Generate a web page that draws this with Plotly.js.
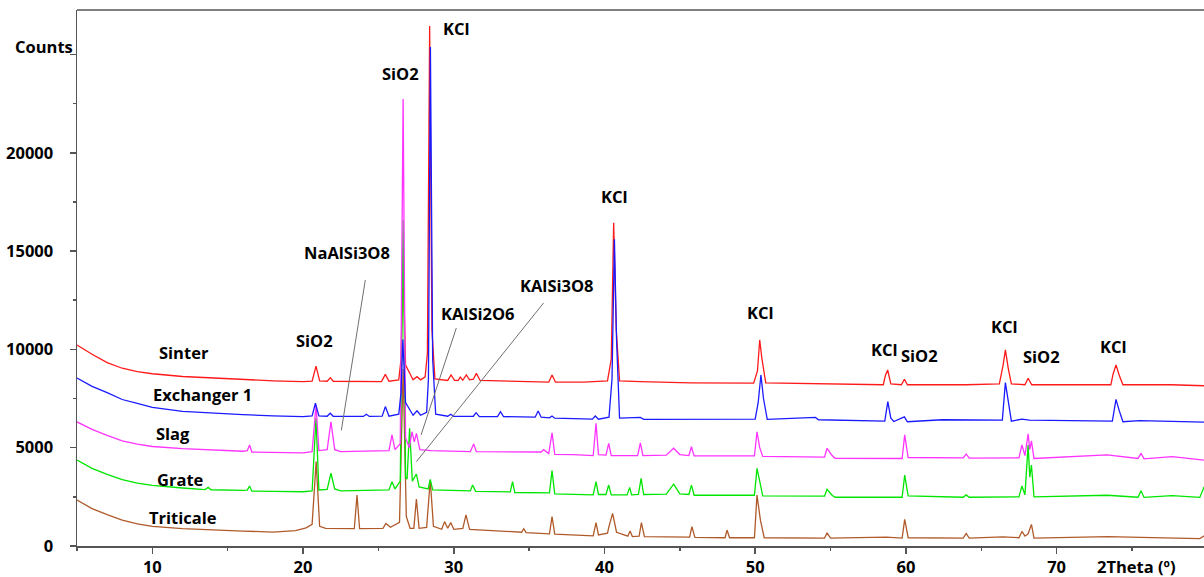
<!DOCTYPE html>
<html><head><meta charset="utf-8">
<script src="https://cdn.plot.ly/plotly-3.0.1.min.js"></script>
<style>html,body{margin:0;padding:0;background:#fff}#chart{width:1204px;height:577px}</style>
</head><body><div id="chart"></div>
<script>
// ---- data (2Theta, Counts) ----
const sinterX = [5,6,7,8,9,10,12,14,16,18,20,20.6,20.86,21.1,21.6,21.81,22.0,25.2,25.46,25.7,26.35,26.5,26.64,26.8,27.3,27.56,27.8,28.1,28.25,28.4,28.55,28.75,29.6,29.82,30.05,30.3,30.43,30.6,30.83,31.05,31.3,31.5,31.75,36.3,36.52,36.75,38.62,39.39,40.2,40.45,40.61,40.78,41.0,42.38,44.37,45.7,49.9,50.15,50.3,50.45,50.7,58.5,58.65,58.79,59.0,59.7,59.9,60.1,64.0,66.2,66.45,66.6,66.8,67.0,67.9,68.11,68.35,73.6,73.75,73.94,74.15,74.4,77.6,79.8];
const sinterY = [10220,9750,9330,9040,8870,8760,8620,8540,8470,8400,8360,8380,9150,8400,8380,8560,8380,8360,8730,8380,8450,9500,14500,9200,8450,8610,8450,8600,9800,26450,11000,8500,8420,8700,8430,8420,8590,8430,8700,8450,8480,8780,8420,8330,8700,8330,8330,8360,8400,9500,16440,11000,8400,8360,8330,8300,8280,8900,10480,9500,8300,8200,8700,8950,8250,8200,8480,8200,8200,8250,9200,9970,9000,8250,8200,8530,8200,8200,8750,9210,8700,8200,8200,8150];

const exchX = [5,6,7,8,9,10,12,14,16,18,20,20.6,20.82,21.05,21.6,21.8,22.0,24.0,24.2,24.4,25.25,25.46,25.7,26.35,26.5,26.62,26.8,27.3,27.56,27.8,28.2,28.32,28.45,28.6,28.8,29.6,29.8,30.0,31.3,31.48,31.7,32.9,33.1,33.3,35.4,35.6,35.8,36.35,36.52,36.7,39.2,39.39,39.6,40.3,40.5,40.66,40.8,41.0,42.38,42.6,50.0,50.2,50.38,50.55,50.8,54.0,54.2,58.6,58.8,59.0,59.2,59.9,60.1,62.4,64.0,66.4,66.6,66.8,67.0,67.7,68.2,73.7,73.94,74.15,74.4,75.5,79.8];
const exchY = [8540,8120,7800,7450,7250,7050,6850,6760,6680,6620,6580,6620,7260,6620,6600,6750,6600,6590,6700,6590,6600,7090,6600,6700,7800,10500,7300,6650,6880,6650,6800,8500,25380,9500,6700,6600,6700,6590,6600,6780,6580,6580,6830,6580,6550,6870,6550,6520,6610,6500,6450,6610,6450,6550,8500,15600,10500,6500,6540,6440,6450,7300,8700,7500,6440,6540,6420,6350,7340,6500,6330,6570,6320,6420,6400,6400,8310,7300,6350,6450,6400,6350,7460,6900,6320,6380,6300];

const slagX = [5,6,7,8,9,10,12,14,16,16.3,16.45,16.6,18,20,20.6,20.86,21.05,21.6,21.85,22.1,22.5,25.7,25.9,26.1,26.45,26.64,26.8,27.05,27.23,27.38,27.52,27.75,28.5,31.1,31.32,31.5,35.8,35.96,36.3,36.52,36.7,37.95,39.25,39.44,39.6,40.1,40.28,40.45,42.2,42.38,42.55,44.1,44.59,45.0,45.6,45.77,45.95,49.95,50.12,50.3,50.5,54.6,54.77,55.1,55.3,59.75,59.92,60.15,63.8,64.0,64.2,67.5,67.7,67.9,68.11,68.22,68.33,68.5,73.35,75.4,75.6,75.8,77.66,79.8];
const slagY = [6310,5930,5630,5350,5180,5060,4950,4880,4820,4850,5140,4780,4760,4740,4800,7170,4850,4900,6320,4900,4800,4850,5650,4900,5200,22735,5500,5000,5810,5300,5730,4900,4850,4800,5190,4800,4780,4900,4700,5760,4660,4650,4600,6240,4650,4620,5220,4600,4600,5250,4600,4620,4970,4650,4600,5050,4580,4580,5810,5000,4560,4520,4970,4600,4460,4450,5650,4500,4480,4680,4470,4480,5140,4600,5700,4900,5350,4450,4630,4450,4710,4430,4550,4370];

const grateX = [5,6,7,8,9,10,12,13.5,13.7,13.9,16,16.3,16.45,16.6,18,20,20.6,20.86,21.05,21.6,21.85,22.1,22.5,25.7,25.9,26.1,26.45,26.64,26.8,26.9,27.07,27.25,27.52,27.7,28.3,28.44,28.6,31.1,31.25,31.45,33.75,33.9,34.05,36.35,36.52,36.7,39.25,39.44,39.6,40.1,40.28,40.45,41.5,41.67,41.8,42.25,42.43,42.6,44.1,44.59,45.0,45.6,45.77,45.95,49.95,50.12,50.3,50.5,54.6,54.77,55.1,55.3,59.75,59.92,60.15,63.8,64.0,64.2,67.5,67.7,67.9,68.11,68.22,68.33,68.5,73.35,75.4,75.6,75.8,77.66,79.5,79.8];
const grateY = [4370,3950,3640,3380,3200,3080,2950,2870,2980,2860,2830,2840,3050,2790,2780,2760,2800,6510,2850,2880,3700,2900,2800,2850,3270,2900,3300,16580,3500,3400,5990,3300,3660,3000,2900,3390,2850,2800,3100,2780,2750,3270,2720,2700,3830,2650,2600,3270,2620,2620,3100,2600,2600,2980,2600,2620,3440,2620,2640,3150,2650,2620,3100,2580,2580,3950,3300,2550,2540,2880,2580,2480,2480,3610,2550,2480,2600,2480,2500,3050,2600,5140,3500,4120,2500,2580,2480,2810,2470,2560,2470,3020];

const tritX = [5,6,7,8,9,10,12,14,16,18,19.5,20.2,20.6,20.87,21.1,21.5,23.4,23.58,23.75,25.3,25.5,25.8,26.4,26.64,26.85,27.1,27.35,27.52,27.7,28.2,28.44,28.65,29.2,29.39,29.6,29.8,30.0,30.6,30.81,31.05,34.5,34.64,34.8,36.35,36.52,36.7,38.62,39.25,39.44,39.6,40.2,40.3,40.54,40.8,41.55,41.7,41.85,42.3,42.45,42.65,45.65,45.8,46.0,48.0,48.13,48.3,49.95,50.12,50.35,50.6,54.6,54.77,55.0,58.7,59.75,59.92,60.15,63.8,64.0,64.2,66.44,67.5,67.7,67.9,68.11,68.33,68.5,73.4,75.6,77.66,79.5,79.8];
const tritY = [2340,1900,1600,1320,1130,1000,880,810,760,710,780,920,1100,4300,1000,900,880,2590,880,900,1150,950,1200,9000,1500,900,900,2390,900,950,3360,1000,850,1240,900,1190,850,900,1580,850,700,880,680,620,1490,600,550,520,1190,560,650,1000,1660,700,500,760,480,500,1190,480,450,980,440,420,810,420,420,2590,1300,420,400,660,400,450,400,1360,420,400,640,400,460,420,740,500,620,1100,400,480,440,400,380,520];

// series names, colours, label anchors (start x, centre y)
const seriesNames = ["Sinter","Triticale","Grate","Slag","Exchanger 1"];
const seriesColors = ["#ff1a1a","#b05a2a","#00e600","#ff33ff","#1a1aff"];
const seriesX = [sinterX, tritX, grateX, slagX, exchX];
const seriesY = [sinterY, tritY, grateY, slagY, exchY];
const nameLabelX = [10.3, 9.65, 10.18, 10.12, 9.92];
const nameLabelY = [9865, 1473, 3406, 5745, 7680];

// phase labels
const phaseText = ["KCl","SiO2","NaAlSi3O8","KAlSi2O6","KAlSi3O8","SiO2","KCl","KCl","KCl","SiO2","KCl","SiO2","KCl"];
const phaseX = [30.17,26.45,22.93,31.62,36.87,20.75,40.66,50.34,58.57,60.93,66.53,68.98,73.76];
const phaseY = [26340,24050,14950,11800,13270,10475,17750,11900,9970,9710,11140,9660,10170];

// leader lines [x0,y0,x1,y1]
const leaderLines = [[24.13,13530,22.54,5880],[30.17,11090,27.83,5650],[35.96,12360,27.52,4290]];

const xTicks = [10,20,30,40,50,60,70];
const yTicks = [0,5000,10000,15000,20000,25000];
const yTickText = ["0","5000","10000","15000","20000",""];

const font = {family:"Open Sans, sans-serif", size:16.5, color:"#000", weight:"bold"};

const traces = seriesNames.map((n,i)=>({
  type:"scatter", mode:"lines", name:n, x:seriesX[i], y:seriesY[i],
  line:{color:seriesColors[i], width:1.3}, hoverinfo:"skip"
}));

const annotations = [];
seriesNames.forEach((n,i)=>annotations.push({text:n, x:nameLabelX[i], y:nameLabelY[i], xref:"x", yref:"y", xanchor:"left", yanchor:"middle", showarrow:false, font:font}));
phaseText.forEach((t,i)=>annotations.push({text:t, x:phaseX[i], y:phaseY[i], xref:"x", yref:"y", xanchor:"center", yanchor:"middle", showarrow:false, font:font}));
annotations.push({text:"Counts", xref:"paper", x:0, xanchor:"right", xshift:-2, y:25000, yref:"y", yanchor:"middle", yshift:8, showarrow:false, font:font});
annotations.push({text:"2Theta (º)", xref:"x", x:75.3, xanchor:"center", yref:"paper", y:0, yanchor:"top", yshift:-7, showarrow:false, font:font});

const shapes = leaderLines.map(l=>({type:"line", xref:"x", yref:"y", x0:l[0], y0:l[1], x1:l[2], y1:l[3], line:{color:"#707070", width:1}}));
shapes.push({type:"line", xref:"paper", yref:"paper", x0:0, x1:1, y0:1, y1:1, line:{color:"#555", width:1.5}});

const layout = {
  width:1204, height:577,
  margin:{l:77, r:0, t:10, b:31, pad:0},
  paper_bgcolor:"#fff", plot_bgcolor:"#fff",
  showlegend:false,
  font:font,
  xaxis:{range:[5,79.78], tickvals:xTicks, ticks:"outside", ticklen:6, tickwidth:1.5, tickcolor:"#555",
    showline:true, linecolor:"#555", linewidth:1.5, showgrid:false, zeroline:false, tickfont:font,
    minor:{dtick:5, tick0:5, ticks:"outside", ticklen:3, tickcolor:"#555", showgrid:false}},
  yaxis:{range:[0,27260], tickvals:yTicks, ticktext:yTickText, ticks:"outside", ticklen:6, tickwidth:1.5, tickcolor:"#555",
    ticklabelstandoff:13,
    showline:true, linecolor:"#555", linewidth:1.5, showgrid:false, zeroline:false, tickfont:font,
    minor:{dtick:2500, tick0:0, ticks:"outside", ticklen:3, tickcolor:"#555", showgrid:false}},
  annotations:annotations, shapes:shapes
};
Plotly.newPlot("chart", traces, layout, {staticPlot:true, displayModeBar:false});
</script></body></html>
